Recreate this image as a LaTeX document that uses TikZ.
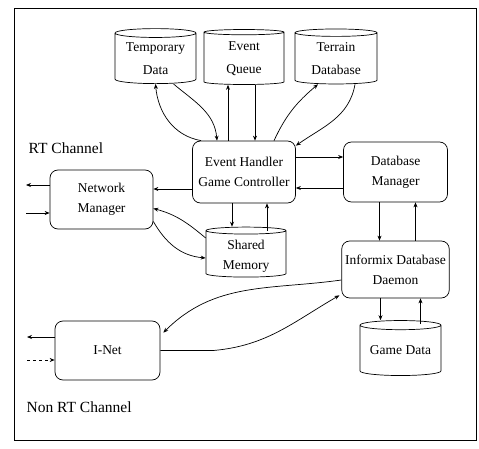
\documentclass[tikz,border=0pt]{standalone}
\usepackage{fontspec}
\setmainfont{Liberation Serif}
\usetikzlibrary{shapes.geometric,arrows.meta}
\begin{document}
\begin{tikzpicture}[x=1pt,y=-1pt,line width=0.7pt,
    >={Stealth[length=5pt,width=4pt]},
    box/.style={draw,rounded corners=8pt,align=center,font=\fontsize{13.5}{20}\selectfont},
    store/.style={draw,cylinder,shape border rotate=90,aspect=0.15,align=center,
      inner sep=0pt,font=\fontsize{13.5}{20}\selectfont},
    chan/.style={font=\fontsize{15.5}{18}\selectfont,anchor=west}]
  \useasboundingbox (0,0) rectangle (479,449);
  \draw (14,8) rectangle (476,440);
  % stores on top
  \node[store,minimum width=81pt,minimum height=55pt,font=\fontsize{13.5}{23}\selectfont] (tmp) at (155.5,58.5) {Temporary\\Data};
  \node[store,minimum width=80pt,minimum height=55pt,font=\fontsize{13.5}{23}\selectfont] (queue) at (244,58.5) {Event\\Queue};
  \node[store,minimum width=82pt,minimum height=55pt,font=\fontsize{13.5}{23}\selectfont] (terrain) at (336,58.5) {Terrain\\Database};
  % main boxes
  \node[box,minimum width=103pt,minimum height=62pt] (ehgc) at (244,172) {Event Handler\\Game Controller};
  \node[box,minimum width=104pt,minimum height=60pt] (dbm) at (395.5,172) {Database\\Manager};
  \node[box,minimum width=103pt,minimum height=59pt] (netmgr) at (101.5,199.5) {Network\\Manager};
  \node[store,minimum width=80pt,minimum height=50pt] (shmem) at (246,254) {\strut Shared\\Memory};
  \node[box,minimum width=102pt,minimum height=57pt] (informix) at (395.5,269.5) {Informix Database\\Daemon};
  \node[store,minimum width=81pt,minimum height=55pt] (gamedata) at (400.5,350.5) {Game Data};
  \node[box,minimum width=105pt,minimum height=59pt] (inet) at (107.5,350.5) {I-Net};
  \node[chan] (rt) at (25,148) {RT Channel};
  \node[chan] (nonrt) at (23,407) {Non RT Channel};
  \coordinate (rtout) at (26,185);
  \coordinate (rtin) at (26,213);
  \coordinate (nrtout) at (27,337);
  \coordinate (nrtin) at (27,360);
  % top links
  \draw[->] ([xshift=9pt]ehgc.north west) to[out=170,in=-85] (tmp.south);
  \draw[->] ([xshift=18pt]tmp.south) to[out=-40,in=95] ([xshift=-27pt]ehgc.north);
  \draw[->] ([xshift=-16pt]ehgc.north) -- ([xshift=-16pt]queue.south);
  \draw[->] ([xshift=11pt]queue.south) -- ([xshift=11pt]ehgc.north);
  \draw[->] ([xshift=30pt]ehgc.north) to[out=65,in=-140] ([xshift=-18pt]terrain.south);
  \draw[->] ([xshift=19pt]terrain.south) to[out=-100,in=35] ([yshift=-5pt]ehgc.north east);
  % middle links
  \draw[->] ([yshift=15pt]ehgc.east) -- ([yshift=15pt]dbm.west);
  \draw[->] ([yshift=-16pt]dbm.west) -- ([yshift=-16pt]ehgc.east);
  \draw[->] ([yshift=-17pt]ehgc.west) -- ([yshift=-17pt]ehgc.west -| netmgr.east);
  \draw[->] (netmgr.west |- rtout) -- (rtout);
  \draw[->] (rtin) -- (rtin -| netmgr.west);
  \draw[->] ([xshift=-12pt]ehgc.south) -- ([xshift=-12pt]ehgc.south |- shmem.north);
  \draw[->] ([xshift=23pt,yshift=-4pt]ehgc.south |- shmem.north) -- ([xshift=23pt]ehgc.south);
  \draw[->] ([yshift=16pt]shmem.west) to[out=140,in=-15] ([yshift=-9pt]netmgr.east);
  \draw[->] ([yshift=-22pt]netmgr.east) to[out=-60,in=175] ([yshift=-4pt]shmem.west);
  \draw[->] ([xshift=-16pt]dbm.south) -- ([xshift=-16pt]informix.north);
  \draw[->] ([xshift=20pt]informix.north) -- ([xshift=20pt]dbm.south);
  % lower links
  \draw[->] ([yshift=-10.5pt]informix.west) to[out=188,in=45] ([yshift=-12pt,xshift=3pt]inet.north east);
  \draw[->] (inet.east) -- ++(53,0) to[out=5,in=210] ([yshift=3pt,xshift=-2pt]informix.south west);
  \draw[->] (inet.west |- nrtout) -- (nrtout);
  \draw[->,dashed] (nrtin) -- (nrtin -| inet.west);
  \draw[->] ([xshift=-15pt]informix.south) -- ([xshift=-15pt]informix.south |- gamedata.north);
  \draw[->] ([xshift=25pt,yshift=-4pt]informix.south |- gamedata.north) -- ([xshift=25pt]informix.south);
\end{tikzpicture}
\end{document}
